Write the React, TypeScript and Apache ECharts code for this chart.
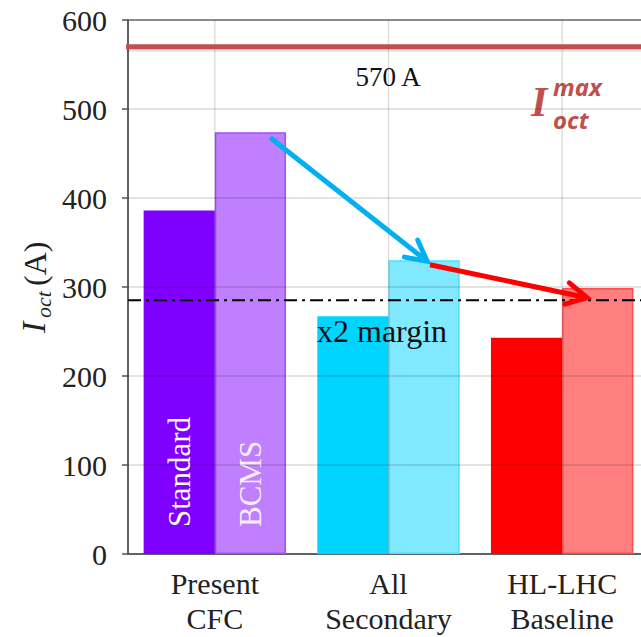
import React, { useEffect, useRef } from "react";
import * as echarts from "echarts";

const categories = ["Present\nCFC", "All\nSecondary", "HL-LHC\nBaseline"];
const standardValues = [386, 267, 243];
const bcmsValues = [474, 330, 299];
const standardColors = ["#7F00FF", "#00D5FF", "#FF0000"];
const bcmsColors = ["#BF7FFF", "#80E9FF", "#FF7F7F"];
const bcmsBorders = ["#A64DFF", "#4DE0FF", "#FF4D4D"];
const yTicks = [100, 200, 300, 400, 500];
const limitValue = 570;
const marginValue = 285;
// arrows: [x1, y1, x2, y2] in (category position, current) units
const arrowSegments = [
  [0.318, 468, 1.222, 329],
  [1.239, 325, 2.143, 288],
];
const arrowColors = ["#00B0F0", "#FF0000"];

const SERIF = "Liberation Serif";

export default function App() {
  const ref = useRef<HTMLDivElement>(null);
  useEffect(() => {
    if (!ref.current) return;
    const chart = echarts.init(ref.current, undefined, { renderer: "svg" });
    const option: any = {
      animation: false,
      grid: {
        left: 128,
        top: 20,
        bottom: 83,
        width: 521,
        outerBoundsMode: "none",
        containLabel: false,
        show: true,
        borderColor: "#666",
        borderWidth: 1.5,
        backgroundColor: "transparent",
      },
      xAxis: [
        {
          type: "category",
          data: categories,
          axisLine: { lineStyle: { color: "#555", width: 1.5 } },
          axisTick: { alignWithLabel: true, length: 6, lineStyle: { color: "#555", width: 1.5 } },
          axisLabel: {
            interval: 0,
            fontFamily: SERIF,
            fontSize: 30,
            lineHeight: 35,
            color: "#222",
            margin: 12,
          },
          splitLine: { show: false },
        },
        { type: "value", min: -0.5, max: 2.5, show: false },
      ],
      yAxis: {
        type: "value",
        min: 0,
        max: 600,
        interval: 100,
        axisLine: { show: true, onZero: false, lineStyle: { color: "#555", width: 1.5 } },
        axisTick: { show: true, length: 6, lineStyle: { color: "#555", width: 1.5 } },
        axisLabel: { fontFamily: SERIF, fontSize: 30, color: "#222", margin: 21 },
        splitLine: { show: false },
      },
      series: [
        {
          type: "bar",
          name: "Standard",
          xAxisIndex: 0,
          yAxisIndex: 0,
          barGap: "0%",
          barCategoryGap: "18%",
          z: 2,
          data: standardValues.map((v, i) => ({
            value: v,
            itemStyle: { color: standardColors[i] },
            label:
              i === 0
                ? {
                    show: true,
                    formatter: "Standard",
                    position: "insideBottom",
                    rotate: 90,
                    align: "left",
                    verticalAlign: "middle",
                    distance: 27,
                    color: "#fff",
                    fontFamily: SERIF,
                    fontSize: 31,
                  }
                : { show: false },
          })),
        },
        {
          type: "bar",
          name: "BCMS",
          xAxisIndex: 0,
          yAxisIndex: 0,
          barGap: "0%",
          barCategoryGap: "18%",
          z: 2,
          data: bcmsValues.map((v, i) => ({
            value: v,
            itemStyle: { color: bcmsColors[i], borderColor: bcmsBorders[i], borderWidth: 1.5 },
            label:
              i === 0
                ? {
                    show: true,
                    formatter: "BCMS",
                    position: "insideBottom",
                    rotate: 90,
                    align: "left",
                    verticalAlign: "middle",
                    distance: 27,
                    color: "rgba(255,255,255,0.9)",
                    fontFamily: SERIF,
                    fontSize: 31,
                  }
                : { show: false },
          })),
        },
        {
          type: "custom",
          name: "hgrid",
          xAxisIndex: 1,
          yAxisIndex: 0,
          z: 3,
          silent: true,
          clip: false,
          data: yTicks.map((v) => [0, v]),
          renderItem: (params: any, api: any) => {
            const cs = params.coordSys;
            const y = api.coord([0, api.value(1)])[1];
            return {
              type: "line",
              shape: { x1: cs.x, y1: y, x2: cs.x + cs.width, y2: y },
              style: { stroke: "rgba(0,0,0,0.15)", lineWidth: 1.3 },
            };
          },
        },
        {
          type: "custom",
          name: "vgrid",
          xAxisIndex: 1,
          yAxisIndex: 0,
          z: 3,
          silent: true,
          clip: false,
          data: categories.map((_, i) => [i, 0]),
          renderItem: (params: any, api: any) => {
            const cs = params.coordSys;
            const x = api.coord([api.value(0), 0])[0];
            return {
              type: "line",
              shape: { x1: x, y1: cs.y, x2: x, y2: cs.y + cs.height },
              style: { stroke: "rgba(0,0,0,0.15)", lineWidth: 1.3 },
            };
          },
        },
        {
          type: "custom",
          name: "limits",
          xAxisIndex: 1,
          yAxisIndex: 0,
          z: 4,
          silent: true,
          clip: false,
          data: [
            [0, limitValue, 0],
            [0, marginValue, 1],
          ],
          renderItem: (params: any, api: any) => {
            const cs = params.coordSys;
            const y = api.coord([0, api.value(1)])[1];
            const kind = api.value(2);
            if (kind === 0) {
              return {
                type: "group",
                children: [
                  {
                    type: "line",
                    shape: { x1: cs.x - 1, y1: y + 3, x2: cs.x + cs.width, y2: y + 3 },
                    style: { stroke: "rgba(0,0,0,0.12)", lineWidth: 4 },
                  },
                  {
                    type: "line",
                    shape: { x1: cs.x - 2, y1: y, x2: cs.x + cs.width, y2: y },
                    style: { stroke: "#C0504D", lineWidth: 5 },
                  },
                ],
              };
            }
            return {
              type: "line",
              shape: { x1: cs.x, y1: y, x2: cs.x + cs.width, y2: y },
              style: { stroke: "#000", lineWidth: 2, lineDash: [13, 5, 3, 5] },
            };
          },
        },
        {
          type: "custom",
          name: "arrows",
          xAxisIndex: 1,
          yAxisIndex: 0,
          z: 10,
          silent: true,
          clip: false,
          data: arrowSegments.map((s, i) => [...s, i]),
          encode: { x: [0, 2], y: [1, 3] },
          renderItem: (params: any, api: any) => {
            const p1 = api.coord([api.value(0), api.value(1)]);
            const p2 = api.coord([api.value(2), api.value(3)]);
            const color = arrowColors[api.value(4)];
            const dx = p2[0] - p1[0];
            const dy = p2[1] - p1[1];
            const ang = Math.atan2(dy, dx) + Math.PI;
            const L = 23;
            const a = (28 * Math.PI) / 180;
            const h1 = [p2[0] + L * Math.cos(ang + a), p2[1] + L * Math.sin(ang + a)];
            const h2 = [p2[0] + L * Math.cos(ang - a), p2[1] + L * Math.sin(ang - a)];
            return {
              type: "group",
              children: [
                {
                  type: "line",
                  shape: { x1: p1[0], y1: p1[1], x2: p2[0], y2: p2[1] },
                  style: { stroke: color, lineWidth: 5, lineCap: "butt" },
                },
                {
                  type: "polyline",
                  shape: { points: [h1, p2, h2] },
                  style: { stroke: color, lineWidth: 5, fill: null, lineJoin: "miter", lineCap: "round" },
                },
              ],
            };
          },
        },
      ],
      graphic: [
        {
          type: "text",
          x: 388,
          y: 77,
          style: {
            text: "570 A",
            fontFamily: SERIF,
            fontSize: 27,
            fill: "#111",
            align: "center",
            verticalAlign: "middle",
          },
        },
        {
          type: "text",
          x: 317,
          y: 331,
          z: 20,
          style: {
            text: "x2 margin",
            fontFamily: SERIF,
            fontSize: 32,
            fill: "#111",
            align: "left",
            verticalAlign: "middle",
          },
        },
        {
          type: "text",
          x: 531,
          y: 102,
          style: {
            text: "I",
            fontFamily: SERIF,
            fontSize: 42,
            fontWeight: "bold",
            fontStyle: "italic",
            fill: "#C0504D",
            align: "left",
            verticalAlign: "middle",
          },
        },
        {
          type: "text",
          x: 553,
          y: 86,
          style: {
            text: "max",
            fontFamily: "Noto Sans",
            fontSize: 24,
            lineHeight: 24,
            fontWeight: "bold",
            fontStyle: "italic",
            fill: "#C0504D",
            align: "left",
            verticalAlign: "middle",
          },
        },
        {
          type: "text",
          x: 553,
          y: 119,
          style: {
            text: "oct",
            fontFamily: "Noto Sans",
            fontSize: 24,
            lineHeight: 24,
            fontWeight: "bold",
            fontStyle: "italic",
            fill: "#C0504D",
            align: "left",
            verticalAlign: "middle",
          },
        },
        {
          type: "group",
          x: 35,
          y: 288,
          rotation: Math.PI / 2,
          children: [
            {
              type: "text",
              x: -45,
              y: -2,
              style: {
                text: "I",
                fontFamily: SERIF,
                fontSize: 34,
                fontStyle: "italic",
                fill: "#222",
                align: "left",
                verticalAlign: "middle",
              },
            },
            {
              type: "text",
              x: -30,
              y: 8,
              style: {
                text: "oct",
                fontFamily: SERIF,
                fontSize: 22,
                fontStyle: "italic",
                fill: "#222",
                align: "left",
                verticalAlign: "middle",
              },
            },
            {
              type: "text",
              x: 2,
              y: 0,
              style: {
                text: "(A)",
                fontFamily: SERIF,
                fontSize: 32,
                fill: "#222",
                align: "left",
                verticalAlign: "middle",
              },
            },
          ],
        },
      ],
    };
    chart.setOption(option);
    return () => chart.dispose();
  }, []);
  return (
    <div
      ref={ref}
      style={{ position: "fixed", left: 0, top: 0, width: 641, height: 637, background: "#fff" }}
    />
  );
}
